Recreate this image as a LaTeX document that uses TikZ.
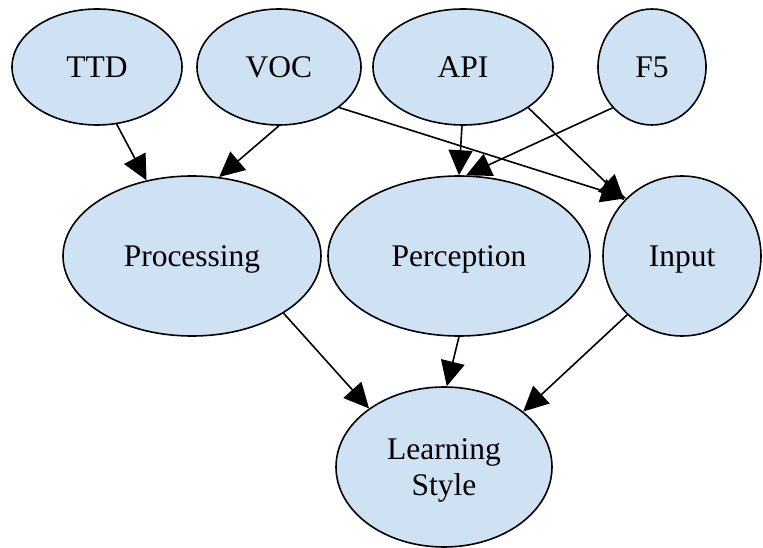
\documentclass[tikz,border=0pt]{standalone}
\usepackage{fontspec}
\setmainfont{Liberation Serif}
\usetikzlibrary{shapes.geometric,arrows.meta}
\definecolor{nodefill}{HTML}{CFE2F3}
\tikzset{
  vnode/.style={ellipse, draw=black, line width=1.6pt, fill=nodefill, inner sep=0pt,
    font=\fontsize{31.5}{36}\selectfont, align=center, text depth=0pt},
  edge/.style={line width=1.6pt, -{Triangle[length=25pt,width=24pt]}}
}
\begin{document}
\begin{tikzpicture}[x=1pt,y=-1pt]
\useasboundingbox (0,0) rectangle (763,548);
\node[vnode, minimum width=170pt, minimum height=116pt] (ttd) at (97,67) {TTD};
\node[vnode, minimum width=164pt, minimum height=116pt] (voc) at (279,67) {VOC};
\node[vnode, minimum width=180pt, minimum height=116pt] (api) at (463,67) {API};
\node[vnode, minimum width=108pt, minimum height=116pt] (f5) at (652,67) {F5};
\node[vnode, minimum width=258pt, minimum height=160pt] (proc) at (192,256) {Processing};
\node[vnode, minimum width=262pt, minimum height=160pt] (perc) at (459,256) {Perception};
\node[vnode, minimum width=158pt, minimum height=160pt] (inp) at (682,256) {Input};
\node[vnode, minimum width=216pt, minimum height=160pt] (ls) at (444,467) {Learning\\Style};

\draw[edge] (ttd.-71) -- (proc.121);
\draw[edge] (voc.-90) -- (proc.71);
\draw[edge] (voc.-34.8) -- (inp.134.5);
\draw[edge] (api.-91) -- (perc.90);
\draw[edge] (api.-32.6) -- (inp.136);
\draw[edge] (f5.-134) -- (perc.85.7);
\draw[edge] (proc.-32) -- (ls.142.5);
\draw[edge] (perc.-90.7) -- (ls.88);
\draw[edge] (inp.-133.5) -- (ls.35.4);
\end{tikzpicture}
\end{document}
